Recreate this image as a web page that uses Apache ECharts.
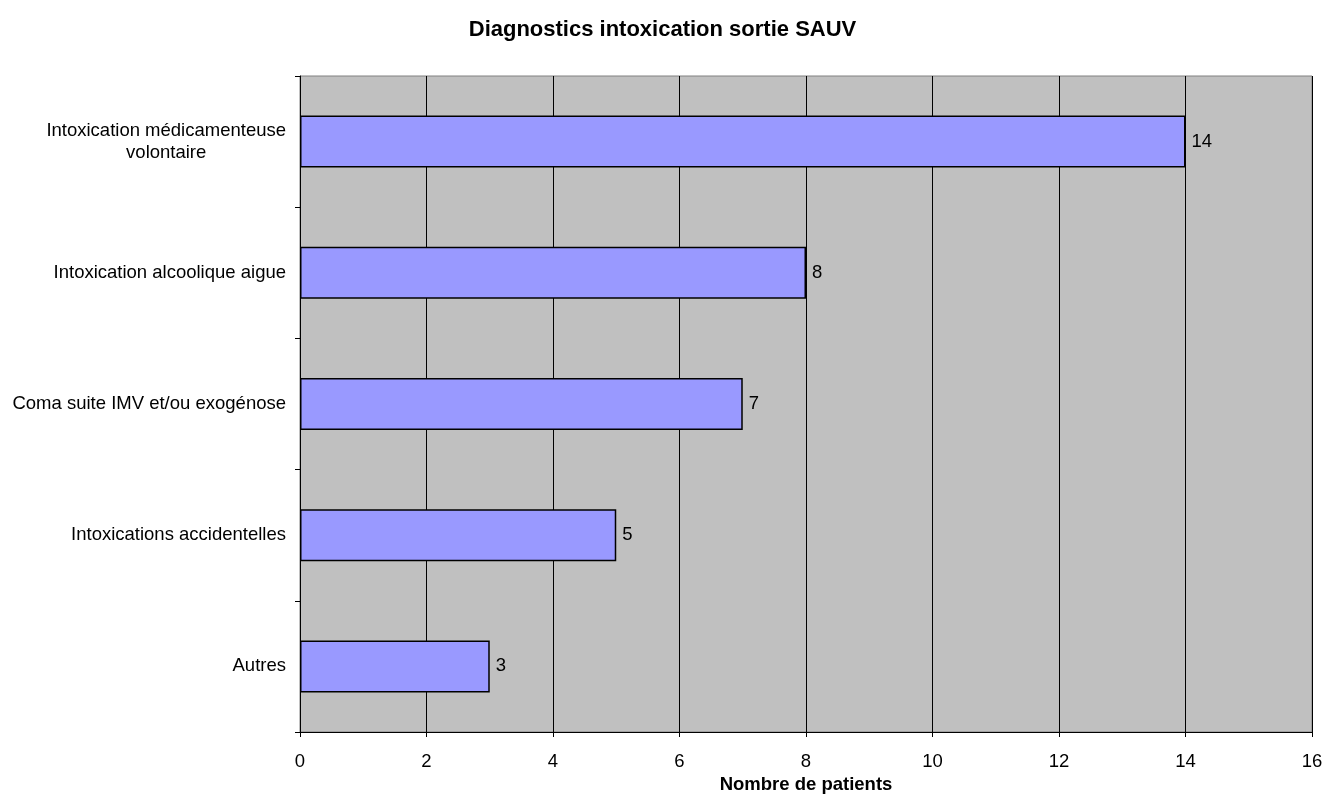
<!DOCTYPE html>
<html><head><meta charset="utf-8">
<script src="https://cdn.jsdelivr.net/npm/echarts@6/dist/echarts.min.js"></script>
<style>html,body{margin:0;padding:0;background:#fff}#c{width:1325px;height:799px}</style>
</head><body><div id="c"></div>
<script>
const categories = ["Autres", "Intoxications accidentelles", "Coma suite IMV et/ou exogénose", "Intoxication alcoolique aigue", "Intoxication médicamenteuse\nvolontaire"];
const values = [3, 5, 7, 8, 14];
const xTicks = [0, 2, 4, 6, 8, 10, 12, 14, 16];
const titleText = "Diagnostics intoxication sortie SAUV";
const xName = "Nombre de patients";

const chart = echarts.init(document.getElementById('c'), null, {renderer: 'canvas'});
const font = '"Liberation Sans", Arial, sans-serif';
chart.setOption({
  animation: false,
  textStyle: {fontFamily: font},
  title: {text: titleText, left: 'center', top: 14, textStyle: {fontFamily: font, fontSize: 22, fontWeight: 'bold', color: '#000'}},
  grid: {left: 300, right: 13, top: 76, bottom: 67, containLabel: false, outerBoundsMode: 'none',
    backgroundColor: '#C0C0C0', show: true, borderColor: '#808080', borderWidth: 1},
  xAxis: {
    type: 'value', min: xTicks[0], max: xTicks[xTicks.length - 1], interval: 2,
    name: xName, nameLocation: 'middle', nameGap: 41,
    nameTextStyle: {fontFamily: font, fontSize: 18.5, fontWeight: 'bold', color: '#000'},
    axisLine: {show: true, lineStyle: {color: '#000', width: 1}},
    axisTick: {show: true, length: 5, lineStyle: {color: '#000'}},
    axisLabel: {fontFamily: font, fontSize: 18.5, color: '#000', margin: 20},
    splitLine: {show: true, lineStyle: {color: '#000', width: 1}}
  },
  yAxis: {
    type: 'category', data: categories,
    axisLine: {show: true, lineStyle: {color: '#000', width: 1}},
    axisTick: {show: true, length: 5, lineStyle: {color: '#000'}},
    axisLabel: {fontFamily: font, fontSize: 18.5, color: '#000', margin: 14, align: 'right',
      formatter: v => v.split('\n').map(s => '{c|' + s + '}').join('\n'),
      rich: {c: {fontFamily: font, fontSize: 18.5, color: '#000', align: 'center', lineHeight: 22}}},
    splitLine: {show: false}
  },
  series: [{
    type: 'bar', data: values, barWidth: 52,
    itemStyle: {color: '#9999FF', borderColor: '#000', borderWidth: 1.5},
    label: {show: true, position: 'right', distance: 6, fontFamily: font, fontSize: 18.5, color: '#000'}
  }]
});
</script></body></html>
